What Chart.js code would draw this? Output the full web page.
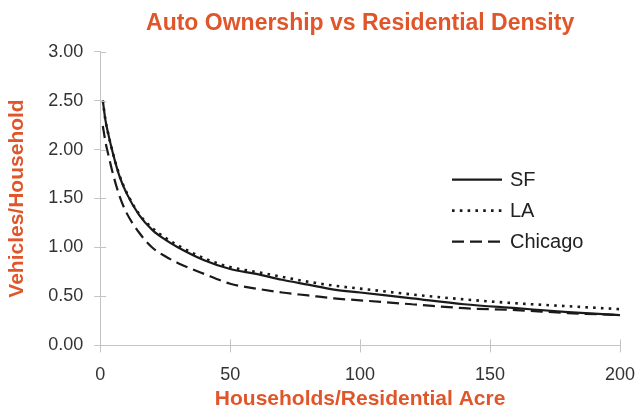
<!DOCTYPE html>
<html>
<head>
<meta charset="utf-8">
<title>Auto Ownership vs Residential Density</title>
<script src="https://cdn.jsdelivr.net/npm/chart.js@4.4.1/dist/chart.umd.min.js"></script>
<style>
  body { margin: 0; background: #fff; }
</style>
</head>
<body>
<canvas id="myChart" width="638" height="410"></canvas>
<script>
// households per residential acre
const density = [1, 2, 3, 5, 7.5, 10, 15, 20, 25, 30, 40, 50, 60, 70, 80, 90, 100, 120, 140, 160, 180, 200];
// vehicles per household
const sf      = [2.50, 2.30, 2.17, 1.95, 1.72, 1.56, 1.33, 1.18, 1.08, 1.00, 0.87, 0.78, 0.73, 0.67, 0.62, 0.57, 0.54, 0.48, 0.42, 0.38, 0.34, 0.31];
const la      = [2.50, 2.30, 2.17, 1.95, 1.73, 1.57, 1.34, 1.20, 1.10, 1.02, 0.89, 0.80, 0.75, 0.70, 0.65, 0.61, 0.58, 0.52, 0.47, 0.43, 0.40, 0.37];
const chicago = [2.24, 2.08, 1.96, 1.74, 1.52, 1.36, 1.15, 1.00, 0.91, 0.84, 0.73, 0.63, 0.58, 0.54, 0.51, 0.48, 0.46, 0.42, 0.38, 0.36, 0.33, 0.31];

const xTicks = [0, 50, 100, 150, 200];
const yTicks = [0, 0.5, 1, 1.5, 2, 2.5, 3];

const orange = '#e0562a';
const axisGray = '#c4c4c4';
const fontFamily = 'Arial, "Liberation Sans"';

function points(values) {
    return density.map((x, i) => ({ x: x, y: values[i] }));
}

// legend drawn inside the plot, like the original
const legendInside = {
    id: 'legendInside',
    afterDatasetsDraw(chart) {
        const ctx = chart.ctx;
        const left = chart.chartArea.right - 168;
        let y = chart.chartArea.top + 128;
        chart.data.datasets.forEach(ds => {
            ctx.save();
            ctx.strokeStyle = ds.borderColor;
            ctx.lineWidth = ds.borderWidth;
            ctx.setLineDash(ds.borderDash || []);
            ctx.beginPath();
            ctx.moveTo(left, y);
            ctx.lineTo(left + 50, y);
            ctx.stroke();
            ctx.restore();
            ctx.fillStyle = '#222';
            ctx.font = '20px ' + fontFamily;
            ctx.textBaseline = 'middle';
            ctx.fillText(ds.label, left + 58, y + 1);
            y += 31;
        });
    }
};

// tick marks cross the axis lines
const crossTicks = {
    id: 'crossTicks',
    afterDraw(chart) {
        const ctx = chart.ctx;
        const xs = chart.scales.x, ys = chart.scales.y;
        const area = chart.chartArea;
        ctx.save();
        ctx.strokeStyle = axisGray;
        ctx.lineWidth = 1;
        ctx.beginPath();
        yTicks.forEach(v => {
            const py = Math.round(ys.getPixelForValue(v)) + 0.5;
            ctx.moveTo(area.left, py);
            ctx.lineTo(area.left + 6, py);
        });
        xTicks.forEach(v => {
            const px = Math.round(xs.getPixelForValue(v)) + 0.5;
            ctx.moveTo(px, area.bottom);
            ctx.lineTo(px, area.bottom - 6);
        });
        ctx.stroke();
        ctx.restore();
    }
};

const ctx = document.getElementById('myChart').getContext('2d');
new Chart(ctx, {
    type: 'line',
    data: {
        datasets: [{
            label: 'SF',
            data: points(sf),
            borderColor: '#1a1a1a',
            borderWidth: 2.2
        },
        {
            label: 'LA',
            data: points(la),
            borderColor: '#1a1a1a',
            borderWidth: 2.6,
            borderDash: [2.6, 5.2]
        },
        {
            label: 'Chicago',
            data: points(chicago),
            borderColor: '#1a1a1a',
            borderWidth: 2.2,
            borderDash: [12, 6]
        }]
    },
    options: {
        responsive: false,
        animation: false,
        layout: { padding: { left: 5, right: 18, bottom: 0, top: 0 } },
        elements: {
            point: { radius: 0 },
            line: { cubicInterpolationMode: 'monotone', fill: false }
        },
        plugins: {
            legend: { display: false },
            tooltip: { enabled: false },
            title: {
                display: true,
                text: 'Auto Ownership vs Residential Density',
                color: orange,
                fullSize: false,
                font: { family: fontFamily, size: 23, weight: 'bold' },
                padding: { top: 10, bottom: 14 }
            }
        },
        scales: {
            x: {
                type: 'linear',
                min: 0,
                max: 200,
                afterBuildTicks: axis => { axis.ticks = xTicks.map(v => ({ value: v })); },
                afterFit: axis => { axis.paddingRight = 0; },
                grid: { drawOnChartArea: false, color: axisGray, tickLength: 7 },
                border: { color: axisGray },
                ticks: {
                    color: '#333',
                    padding: 12,
                    font: { family: fontFamily, size: 18 }
                },
                title: {
                    display: true,
                    text: 'Households/Residential Acre',
                    color: orange,
                    font: { family: fontFamily, size: 21, weight: 'bold', lineHeight: 1 },
                    padding: { top: -9, bottom: 0 }
                }
            },
            y: {
                min: 0,
                max: 3,
                afterBuildTicks: axis => { axis.ticks = yTicks.map(v => ({ value: v })); },
                grid: { drawOnChartArea: false, color: axisGray, tickLength: 6 },
                border: { color: axisGray },
                ticks: {
                    color: '#333',
                    padding: 11,
                    font: { family: fontFamily, size: 18 },
                    callback: v => v.toFixed(2)
                },
                title: {
                    display: true,
                    text: 'Vehicles/Household',
                    color: orange,
                    font: { family: fontFamily, size: 21, weight: 'bold' },
                    padding: { top: 0, bottom: 7 }
                }
            }
        }
    },
    plugins: [legendInside, crossTicks]
});
</script>
</body>
</html>
